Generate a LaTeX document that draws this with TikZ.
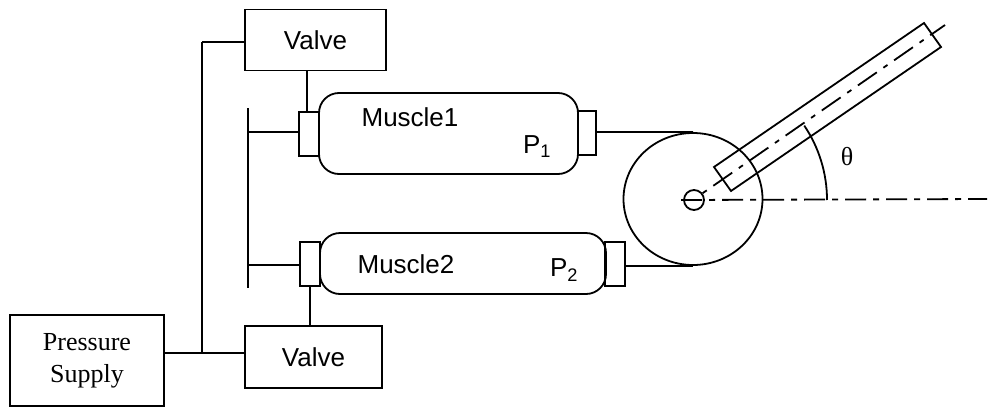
\documentclass[tikz,border=0pt]{standalone}
\usepackage{fontspec}
\usetikzlibrary{shapes.geometric}
\setmainfont{Liberation Sans}
\newfontfamily\timesfont{Liberation Serif}
\newcommand{\LineW}{1.8pt}
\newcommand{\TextSize}{\fontsize{26}{31}\selectfont}
\tikzset{
  boxnode/.style={draw=black,line width=\LineW,inner sep=0pt,align=center},
  bellow/.style={boxnode,rounded corners=20pt},
  labelnode/.style={inner sep=0pt,font=\TextSize},
  wire/.style={black,line width=\LineW},
  rodline/.style={black,line width=\LineW,dash pattern=on 23pt off 8pt on 5pt off 8pt,dash phase=5pt},
  axisline/.style={black,line width=\LineW,dash pattern=on 21pt off 7pt on 6pt off 7pt}
}

\begin{document}
\begin{tikzpicture}[x=1pt,y=-1pt]
\useasboundingbox (0,0) rectangle (992,407);

\node[boxnode,minimum width=154pt,minimum height=91pt,font=\timesfont\TextSize] (Supply) at (87,360.5) {Pressure\\[1pt]Supply};
\node[boxnode,minimum width=141pt,minimum height=61pt,font=\TextSize] (ValveA) at (315.5,40) {Valve};
\node[boxnode,minimum width=137pt,minimum height=62pt,font=\TextSize] (ValveB) at (313.5,357) {Valve};

\node[bellow,minimum width=259pt,minimum height=81pt] (MuscleA) at (448.5,133.5) {};% Upper Muscle
\node[bellow,minimum width=286pt,minimum height=61pt] (MuscleB) at (463,263.5) {};% Lower Muscle
\node[boxnode,minimum width=20pt,minimum height=44pt] (CapAL) at (309,134) {};
\node[boxnode,minimum width=18pt,minimum height=44pt] (CapAR) at (587,133) {};
\node[boxnode,minimum width=20pt,minimum height=44pt] (CapBL) at (310,264) {};
\node[boxnode,minimum width=20pt,minimum height=44pt] (CapBR) at (615,264) {};

\node[labelnode] (NameA) at (410,117) {Muscle1};
\node[labelnode] (NameB) at (406,264) {Muscle2};
\node[labelnode] (PressA) at (537,147) {P\textsubscript{1}};
\node[labelnode] (PressB) at (564,270) {P\textsubscript{2}};
\node[labelnode,font=\timesfont\TextSize] (Theta) at (847,157) {θ};

\node[boxnode,ellipse,minimum width=139pt,minimum height=132pt] (Pulley) at (693,199) {};
\node[boxnode,circle,minimum size=20pt] (Pivot) at (694,200) {};

\coordinate (TrunkT) at (202,42);
\coordinate (TrunkB) at (202,353);
\coordinate (RailT) at (248,108);
\coordinate (RailB) at (248,288);
\coordinate (RailA) at (248,132);
\coordinate (RailC) at (248,265);
\coordinate (ArmA) at (714,167);
\coordinate (ArmB) at (731,191);
\coordinate (ArmC) at (941,47);
\coordinate (ArmD) at (924,23);
\coordinate (RodS) at (700,195);
\coordinate (RodE) at (945,25);
\coordinate (AxisS) at (681,200);
\coordinate (AxisE) at (987,199);

\draw[wire] (TrunkT) -- (ValveA.west |- TrunkT);
\draw[wire] (TrunkT) -- (TrunkB);
\draw[wire] (Supply.east |- TrunkB) -- (ValveB.west |- TrunkB);
\draw[wire] (RailT) -- (RailB);
\draw[wire] (RailA) -- (CapAL.west |- RailA);
\draw[wire] (RailC) -- (CapBL.west |- RailC);
\draw[wire] (CapAL.north -| 307,0) -- (ValveA.south -| 307,0);
\draw[wire] (CapBL.south -| 310,0) -- (ValveB.north -| 310,0);
\draw[wire] (CapAR.east |- RailA) -- (Pulley.north);% Upper Belt
\draw[wire] (CapBR.east |- Pulley.south) -- (Pulley.south);% Lower Belt

\draw[wire] (ArmA) -- (ArmB) -- (ArmC) -- (ArmD) -- cycle;
\draw[rodline] (RodE) -- (RodS);
\draw[axisline] (AxisS) -- (AxisE);
\draw[wire] (827,200) arc[start angle=0,end angle=34,radius=133pt];
\end{tikzpicture}
\end{document}
